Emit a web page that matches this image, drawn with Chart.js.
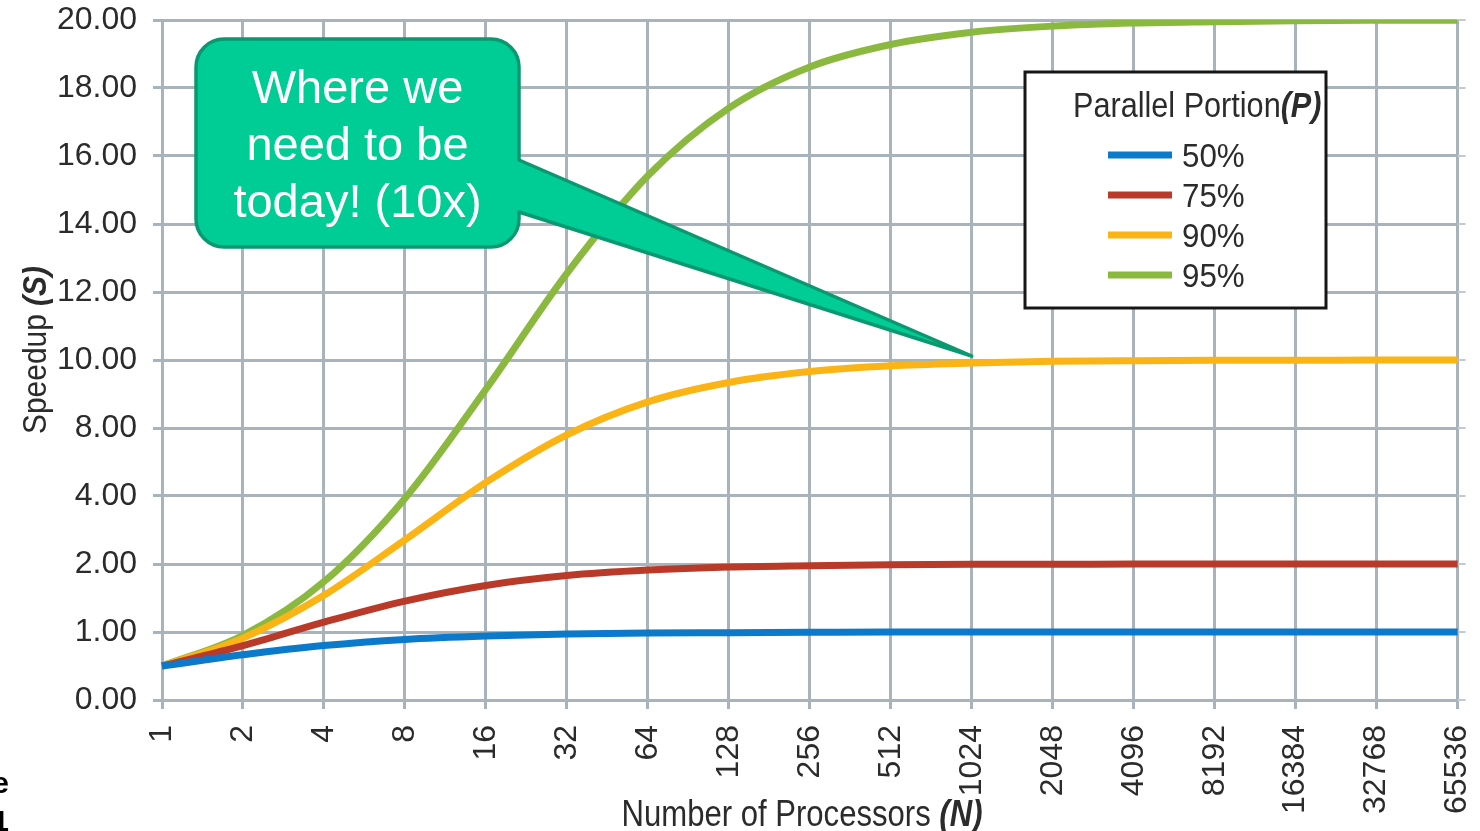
<!DOCTYPE html>
<html>
<head>
<meta charset="utf-8">
<title>Speedup vs Number of Processors</title>
<script src="https://cdn.jsdelivr.net/npm/chart.js@4.4.1/dist/chart.umd.min.js"></script>
<style>
  html, body { margin: 0; padding: 0; background: #ffffff; overflow: hidden; }
  #wrap { width: 1480px; height: 831px; position: relative; }
</style>
</head>
<body>
<div id="wrap"><canvas id="chart" width="1480" height="831"></canvas></div>
<script>
// Number of processors (categories along the bottom)
const processors = ['1', '2', '4', '8', '16', '32', '64', '128', '256', '512', '1024',
  '2048', '4096', '8192', '16384', '32768', '65536'];

// Speedup for each parallel portion, one value per processor count
const speedup50 = [1.00, 1.33, 1.60, 1.78, 1.88, 1.94, 1.97, 1.98, 1.99, 2.00, 2.00,
  2.00, 2.00, 2.00, 2.00, 2.00, 2.00];
const speedup75 = [1.00, 1.60, 2.29, 2.91, 3.37, 3.66, 3.82, 3.91, 3.95, 3.98, 3.99,
  3.99, 4.00, 4.00, 4.00, 4.00, 4.00];
const speedup90 = [1.00, 1.82, 3.08, 4.71, 6.40, 7.80, 8.77, 9.34, 9.66, 9.83, 9.91,
  9.96, 9.98, 9.99, 9.99, 10.00, 10.00];
const speedup95 = [1.00, 1.90, 3.48, 5.93, 9.14, 12.55, 15.42, 17.41, 18.62, 19.28, 19.64,
  19.82, 19.91, 19.95, 19.98, 19.99, 19.99];

const seriesNames = ['50%', '75%', '90%', '95%'];
const seriesColors = ['#0b7acb', '#b93a28', '#fbb416', '#8bb93f'];

// Text printed at each horizontal gridline, bottom to top
const yTickLabels = ['0.00', '1.00', '2.00', '4.00', '8.00', '10.00', '12.00',
  '14.00', '16.00', '18.00', '20.00'];

const calloutLines = ['Where we', 'need to be', 'today! (10x)'];
const calloutTarget = { index: 10, value: 10 };

const SANS = "'Liberation Sans', Arial, Helvetica, sans-serif";
const GRID = '#a9b3bb';
const TEXT = '#2b2b2b';

// Draws a string made of runs with their own fonts, squeezed horizontally by sx
function drawRuns(ctx, runs, x, y, align, sx) {
  let total = 0;
  runs.forEach(r => { ctx.font = r.font; total += ctx.measureText(r.text).width; });
  ctx.save();
  ctx.translate(x, y);
  ctx.scale(sx, 1);
  let cx = align === 'center' ? -total / 2 : 0;
  ctx.textAlign = 'left';
  runs.forEach(r => {
    ctx.font = r.font;
    ctx.fillText(r.text, cx, 0);
    cx += ctx.measureText(r.text).width;
  });
  ctx.restore();
}

const decorations = {
  id: 'decorations',
  beforeDatasetsDraw(chart) {
    const { ctx, chartArea, scales } = chart;
    // short stubs of the horizontal gridlines past the right edge
    ctx.save();
    ctx.strokeStyle = '#c3cacf';
    ctx.lineWidth = 2;
    scales.y.ticks.forEach(t => {
      const y = scales.y.getPixelForValue(t.value);
      ctx.beginPath();
      ctx.moveTo(chartArea.right, y);
      ctx.lineTo(chartArea.right + 8, y);
      ctx.stroke();
    });
    ctx.restore();
  },
  afterDatasetsDraw(chart) {
    const { ctx, scales } = chart;

    // ---- speech-bubble callout pointing at the 10x level ----
    const tipX = scales.x.getPixelForValue(calloutTarget.index);
    const tipY = scales.y.getPixelForValue(calloutTarget.value) - 4;
    const L = 196, T = 39, R = 519, B = 247, rad = 28;
    const tailTop = 160, tailBot = 212;
    ctx.save();
    ctx.beginPath();
    ctx.moveTo(L + rad, T);
    ctx.lineTo(R - rad, T);
    ctx.arcTo(R, T, R, T + rad, rad);
    ctx.lineTo(R, tailTop);
    ctx.lineTo(tipX, tipY);
    ctx.lineTo(R, tailBot);
    ctx.lineTo(R, B - rad);
    ctx.arcTo(R, B, R - rad, B, rad);
    ctx.lineTo(L + rad, B);
    ctx.arcTo(L, B, L, B - rad, rad);
    ctx.lineTo(L, T + rad);
    ctx.arcTo(L, T, L + rad, T, rad);
    ctx.closePath();
    ctx.fillStyle = '#00cc96';
    ctx.fill();
    ctx.lineJoin = 'round';
    ctx.lineWidth = 3.5;
    ctx.strokeStyle = '#0a9870';
    ctx.stroke();

    ctx.fillStyle = '#ffffff';
    ctx.font = '47px ' + SANS;
    ctx.textAlign = 'center';
    ctx.textBaseline = 'alphabetic';
    calloutLines.forEach((line, i) => ctx.fillText(line, (L + R) / 2, 103 + i * 57));
    ctx.restore();
  },
  afterDraw(chart) {
    const { ctx, chartArea } = chart;
    ctx.save();
    ctx.textBaseline = 'alphabetic';

    // ---- legend box ----
    const bx = 1025, by = 72, bw = 301, bh = 236;
    ctx.fillStyle = '#ffffff';
    ctx.fillRect(bx, by, bw, bh);
    ctx.lineWidth = 3;
    ctx.strokeStyle = '#161616';
    ctx.strokeRect(bx, by, bw, bh);

    ctx.fillStyle = TEXT;
    drawRuns(ctx, [
      { text: 'Parallel Portion', font: '35px ' + SANS },
      { text: '(P)', font: 'italic bold 35px ' + SANS }
    ], 1073, 117, 'left', 0.875);

    chart.data.datasets.forEach((ds, i) => {
      const cy = 155 + i * 40;
      ctx.strokeStyle = ds.borderColor;
      ctx.lineWidth = 7;
      ctx.lineCap = 'butt';
      ctx.beginPath();
      ctx.moveTo(1108, cy);
      ctx.lineTo(1172, cy);
      ctx.stroke();
      ctx.fillStyle = TEXT;
      ctx.textBaseline = 'alphabetic';
      drawRuns(ctx, [{ text: ds.label, font: '33px ' + SANS }], 1182, cy + 12, 'left', 0.95);
    });

    // ---- axis titles ----
    ctx.fillStyle = TEXT;
    drawRuns(ctx, [
      { text: 'Number of Processors ', font: '37px ' + SANS },
      { text: '(N)', font: 'italic bold 37px ' + SANS }
    ], 802, 826, 'center', 0.84);

    ctx.save();
    ctx.translate(46, 350);
    ctx.rotate(-Math.PI / 2);
    drawRuns(ctx, [
      { text: 'Speedup ', font: '34px ' + SANS },
      { text: '(S)', font: 'italic bold 34px ' + SANS }
    ], 0, 0, 'center', 0.88);
    ctx.restore();

    // ---- clipped text at the lower-left corner ----
    ctx.fillStyle = '#000000';
    ctx.font = 'bold 30px ' + SANS;
    ctx.textAlign = 'right';
    ctx.fillText('e', 9, 793);
    ctx.fillText('1', 9, 831);
    ctx.restore();
  }
};

const datasets = [speedup50, speedup75, speedup90, speedup95].map((values, i) => ({
  label: seriesNames[i],
  data: values,
  borderColor: seriesColors[i],
  backgroundColor: seriesColors[i],
  borderWidth: 7,
  pointRadius: 0,
  pointHoverRadius: 0,
  fill: false,
  cubicInterpolationMode: 'monotone',
  borderCapStyle: 'butt'
}));

new Chart(document.getElementById('chart'), {
  type: 'line',
  data: { labels: processors, datasets },
  options: {
    responsive: false,
    animation: false,
    devicePixelRatio: 1,
    layout: { padding: { left: 0, top: 20, right: 21, bottom: 0 } },
    plugins: {
      legend: { display: false },
      tooltip: { enabled: false },
      title: { display: false }
    },
    scales: {
      x: {
        type: 'category',
        offset: false,
        grid: { color: GRID, lineWidth: 3, drawTicks: true, tickLength: 9, tickColor: GRID },
        border: { color: GRID, width: 3 },
        ticks: {
          autoSkip: false,
          minRotation: 90,
          maxRotation: 90,
          padding: 16,
          color: TEXT,
          font: { family: SANS, size: 32, lineHeight: 0.2 }
        },
        afterFit(scale) { scale.height = 131; }
      },
      y: {
        type: 'linear',
        min: 0,
        max: 20,
        grid: { color: GRID, lineWidth: 3, drawTicks: true, tickLength: 9, tickColor: GRID },
        border: { color: GRID, width: 3 },
        ticks: {
          stepSize: 2,
          padding: 16,
          color: TEXT,
          font: { family: SANS, size: 32, lineHeight: 0.1 },
          callback: (value, index) => yTickLabels[index]
        },
        afterFit(scale) { scale.width = 162; }
      }
    }
  },
  plugins: [decorations]
});
</script>
</body>
</html>
